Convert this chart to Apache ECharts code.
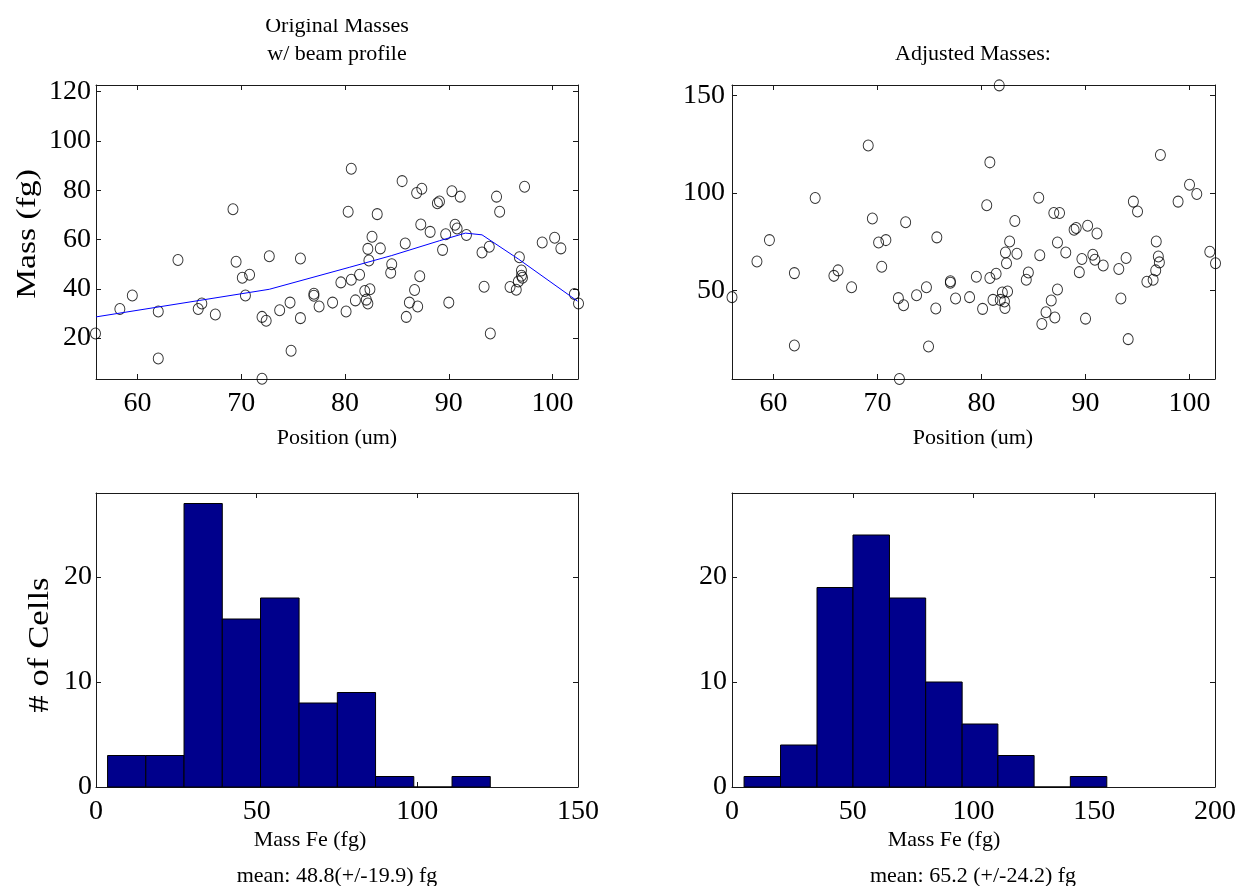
<!DOCTYPE html>
<html>
<head>
<meta charset="utf-8">
<title>Cell iron masses</title>
<script src="https://cdn.jsdelivr.net/npm/echarts@6/dist/echarts.min.js"></script>
<style>
  html, body { margin: 0; padding: 0; background: #ffffff; }
  #chart { width: 1239px; height: 886px; }
</style>
</head>
<body>
<div id="chart"></div>
<script>
// ---- Original masses vs. position ----
const positionOrig = [
  55.95, 58.3, 59.5, 62.0, 62.0, 63.9, 65.85, 66.2, 67.5, 69.2, 69.5, 70.1, 70.8, 70.4,
  72.7, 72.0, 72.4, 72.0, 73.7, 74.7, 74.8, 75.7, 75.7, 77.0, 77.0, 77.5, 78.8, 79.6,
  80.1, 80.6, 80.3, 80.6,
  81.4, 81.0, 81.9, 82.4, 82.05, 82.2, 82.3, 82.2, 82.6, 83.4, 83.1, 84.5, 84.4, 85.5,
  85.8, 87.2, 86.7, 86.2, 87.0, 85.9, 86.9, 87.4, 87.3, 88.2, 88.9, 89.1, 89.4, 89.7,
  90.0, 90.3, 91.1, 90.6, 90.8, 91.7, 93.2, 93.9, 93.4, 94.0, 94.6, 94.9, 97.3, 96.8,
  97.0, 97.0, 97.1, 96.7, 95.9, 96.5, 99.0, 100.2, 100.8, 102.1, 102.5
];
const massOrig = [
  21.9, 31.8, 37.3, 30.8, 11.7, 51.7, 31.8, 34.0, 29.6, 72.3, 51.0, 44.5, 45.7, 37.3,
  53.2, 28.6, 27.0, 3.5, 31.3, 34.4, 14.9, 52.3, 28.1, 38.0, 37.2, 32.8, 34.4, 42.6,
  30.8, 43.7, 71.3, 88.7,
  45.7, 35.3, 39.1, 39.8, 35.6, 34.0, 51.5, 56.2, 61.1, 56.4, 70.3, 50.0, 46.5, 83.7,
  58.4, 45.1, 39.5, 34.4, 32.8, 28.6, 78.9, 80.6, 66.1, 63.1, 74.7, 75.4, 55.8, 62.1,
  34.4, 79.6, 77.4, 66.0, 64.5, 61.8, 54.7, 57.1, 40.8, 21.9, 77.4, 71.3, 81.4, 52.8,
  47.4, 45.3, 44.5, 43.0, 40.7, 39.6, 58.8, 60.7, 56.4, 37.9, 34.0
];

// ---- Beam profile ----
const beamPos  = [56.0, 66.0, 72.7, 80.4, 84.5, 89.1, 91.6, 93.2, 96.7, 102.4];
const beamMass = [28.6, 35.3, 39.8, 48.7, 53.5, 59.5, 62.6, 61.9, 52.1, 35.0];

// ---- Adjusted masses vs. position ----
const positionAdj = [
  56.0, 58.4, 59.6, 62.0, 62.0, 64.0, 65.8, 66.2, 67.5, 69.1, 69.5, 70.1, 70.8, 70.4,
  72.0, 72.5, 72.1, 72.7, 73.75, 74.7, 74.9, 75.6, 75.7, 77.0, 77.0, 77.5, 78.85, 79.5,
  80.1, 80.5, 80.8, 80.8, 81.1, 81.4, 81.7, 82.0, 81.8, 82.2, 82.25, 82.5, 82.4, 82.3,
  82.7, 83.2, 83.4, 84.5, 84.3, 85.5, 85.6, 85.8, 86.2, 86.7, 87.05, 87.3, 86.95, 87.5,
  87.3, 88.1, 88.9, 89.1, 89.4, 89.65, 90.0, 90.2, 90.7, 90.9, 91.1, 91.7, 93.2, 93.4,
  93.9, 94.1, 94.6, 95.0, 95.9, 96.5, 96.75, 96.8, 97.0, 97.1, 97.2, 98.9, 100.0, 100.7,
  101.95, 102.5
];
const massAdj = [
  46.6, 64.9, 75.8, 58.9, 21.8, 97.4, 57.5, 60.3, 51.7, 124.2, 86.9, 74.6, 75.8, 62.2,
  46.1, 42.5, 4.7, 84.9, 47.6, 51.7, 21.3, 40.8, 77.2, 54.0, 54.7, 45.9, 46.6, 57.0,
  40.6, 93.6, 115.6, 56.4, 45.2, 58.6, 155.0, 49.0, 45.2, 44.4, 41.0, 49.5, 64.0, 69.5,
  75.1, 85.6, 68.8, 59.2, 55.5, 97.5, 68.0, 32.9, 38.9, 44.9, 36.2, 50.5, 89.7, 89.7,
  74.6, 69.5, 81.1, 82.0, 59.4, 66.1, 35.6, 83.2, 68.3, 65.7, 79.2, 62.8, 61.0, 45.9,
  66.6, 25.1, 95.5, 90.4, 54.5, 55.5, 60.3, 75.1, 67.4, 64.4, 119.4, 95.5, 104.1, 99.4,
  69.8, 64.0
];

// ---- Histograms (bin edges and counts) ----
const histOrigEdges  = [3.6, 15.5, 27.4, 39.3, 51.2, 63.2, 75.1, 87.0, 98.9, 110.8, 122.7];
const histOrigCounts = [3, 3, 27, 16, 18, 8, 9, 1, 0, 1];
const histAdjEdges   = [5.0, 20.1, 35.2, 50.1, 65.2, 80.2, 95.3, 110.1, 125.1, 140.1, 155.2];
const histAdjCounts  = [1, 4, 19, 24, 18, 10, 6, 3, 0, 1];

// ---- Tick values ----
const positionTicks = [60, 70, 80, 90, 100];
const origMassTicks = [20, 40, 60, 80, 100, 120];
const adjMassTicks  = [50, 100, 150];
const origHistTicks = [0, 50, 100, 150];
const adjHistTicks  = [0, 50, 100, 150, 200];
const countTicks    = [0, 10, 20];

const SERIF = "'Liberation Serif', 'Times New Roman', serif";
const FRAME = '#1a1a1a';

const pairs = (xs, ys) => xs.map((x, i) => [x, ys[i]]);
const bins = (edges, counts) => counts.map((c, i) => [edges[i], edges[i + 1], c]);

function axis(grid, pos, min, max, ticks, showLabels, margin) {
  return {
    type: 'value', gridIndex: grid, position: pos, min: min, max: max,
    axisLine: { show: true, onZero: false, lineStyle: { color: FRAME, width: 1 } },
    axisTick: { show: true, inside: true, length: 5, customValues: ticks,
                lineStyle: { color: FRAME, width: 1 } },
    axisLabel: { show: showLabels, customValues: ticks, margin: margin,
                 color: '#000', fontFamily: SERIF, fontSize: 28 },
    splitLine: { show: false }
  };
}

// Each panel is boxed: labelled bottom/left axes plus bare top/right axes carrying ticks
function xPair(grid, min, max, ticks, margin) {
  return [axis(grid, 'bottom', min, max, ticks, true, margin),
          axis(grid, 'top', min, max, ticks, false, margin)];
}
function yPair(grid, min, max, ticks, margin) {
  return [axis(grid, 'left', min, max, ticks, true, margin),
          axis(grid, 'right', min, max, ticks, false, margin)];
}

// One histogram bar spanning [edge_i, edge_i+1] with height = count
function histItem(params, api) {
  const top = api.coord([api.value(0), api.value(2)]);
  const base = api.coord([api.value(1), 0]);
  return {
    type: 'rect',
    shape: { x: top[0], y: top[1], width: base[0] - top[0], height: base[1] - top[1] },
    style: { fill: '#00008c', stroke: '#000000', lineWidth: 1 }
  };
}

const circleStyle = { color: 'transparent', borderColor: '#000000', borderWidth: 1 };

function label(text, x, y, size, extra) {
  return Object.assign({
    type: 'text', x: x, y: y, z: 10,
    style: {
      text: text, fill: '#000', fontFamily: SERIF, fontSize: size,
      align: 'center', verticalAlign: 'middle',
      textAlign: 'center', textVerticalAlign: 'middle'
    }
  }, extra || {});
}

const chart = echarts.init(document.getElementById('chart'), null, { renderer: 'canvas' });

chart.setOption({
  animation: false,
  backgroundColor: '#ffffff',
  grid: [
    { left: 96,  top: 85,  width: 482, height: 294 },
    { left: 732, top: 85,  width: 483, height: 294 },
    { left: 96,  top: 493, width: 482, height: 294 },
    { left: 732, top: 493, width: 483, height: 294 }
  ],
  xAxis: [].concat(
    xPair(0, 56, 102.45, positionTicks, 11),
    xPair(1, 56, 102.45, positionTicks, 11),
    xPair(2, 0, 150, origHistTicks, 11),
    xPair(3, 0, 200, adjHistTicks, 11)
  ),
  yAxis: [].concat(
    yPair(0, 3.4, 122.7, origMassTicks, 5),
    yPair(1, 4.7, 155.2, adjMassTicks, 7),
    yPair(2, 0, 28, countTicks, 4),
    yPair(3, 0, 28, countTicks, 5)
  ),
  series: [
    {
      type: 'scatter', xAxisIndex: 0, yAxisIndex: 0, clip: false,
      symbol: 'circle', symbolSize: [10, 11], itemStyle: circleStyle,
      data: pairs(positionOrig, massOrig)
    },
    {
      type: 'line', xAxisIndex: 0, yAxisIndex: 0, showSymbol: false,
      lineStyle: { color: '#0000ff', width: 1 },
      data: pairs(beamPos, beamMass)
    },
    {
      type: 'scatter', xAxisIndex: 2, yAxisIndex: 2, clip: false,
      symbol: 'circle', symbolSize: [10, 11], itemStyle: circleStyle,
      data: pairs(positionAdj, massAdj)
    },
    {
      type: 'custom', xAxisIndex: 4, yAxisIndex: 4,
      renderItem: histItem, encode: { x: [0, 1], y: 2 },
      data: bins(histOrigEdges, histOrigCounts)
    },
    {
      type: 'custom', xAxisIndex: 6, yAxisIndex: 6,
      renderItem: histItem, encode: { x: [0, 1], y: 2 },
      data: bins(histAdjEdges, histAdjCounts)
    }
  ],
  graphic: [
    label('Original Masses', 337, 26, 22),
    { type: 'rect', shape: { x: 200, y: 0, width: 280, height: 19 }, z: 20,
      style: { fill: '#ffffff' } },
    label('w/ beam profile', 337, 54, 22),
    label('Adjusted Masses:', 973, 54, 22),
    label('Position (um)', 337, 438, 22),
    label('Position (um)', 973, 438, 22),
    label('Mass (fg)', 28, 234, 28, { rotation: Math.PI / 2, scaleX: 1.2 }),
    label('# of Cells', 40, 645, 30, { rotation: Math.PI / 2, scaleX: 1.16 }),
    label('Mass Fe (fg)', 310, 840, 22),
    label('mean: 48.8(+/-19.9) fg', 337, 876, 22),
    label('Mass Fe (fg)', 944, 840, 22),
    label('mean: 65.2 (+/-24.2) fg', 973, 876, 22)
  ]
});
</script>
</body>
</html>
